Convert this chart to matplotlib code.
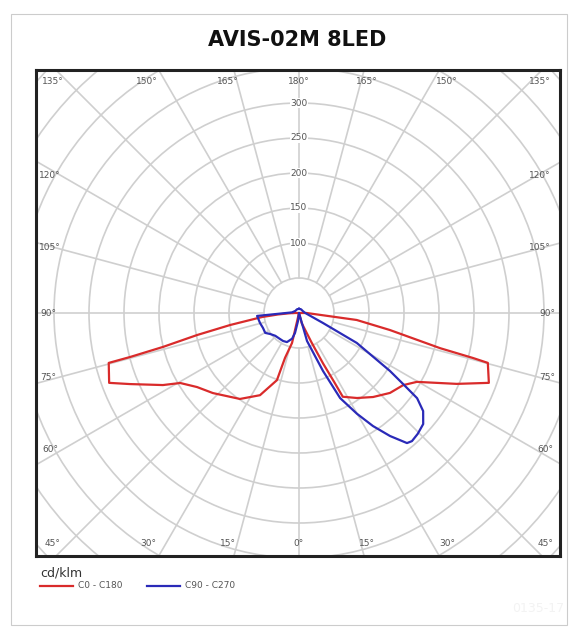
import numpy as np
import matplotlib
matplotlib.use("Agg")
import matplotlib.pyplot as plt
from matplotlib.patches import Circle, Rectangle
from matplotlib.lines import Line2D

# photometric data, gamma in degrees from nadir, intensity in cd/klm
red_left_gamma = [90, 88, 86, 83.8, 80.1, 77.8, 76.0, 75.4, 75.3, 69.8, 67.2,
                  62.1, 59.5, 54.0, 47.1, 34.5, 25.4, 18.2, 17.3, 13.1, 0]
red_left_cd = [8, 15, 30, 53, 100, 149, 200, 249, 281, 289, 262,
               220, 197, 180, 168, 149, 130, 101, 67, 44, 0]

red_right_gamma = [90, 83.1, 79.4, 76.0, 75.5, 75.2, 69.8, 65.8, 59.7, 55.3,
                   48.7, 41.4, 34.3, 27.6, 27.0, 25.5, 23.0, 15.0, 0]
red_right_cd = [11, 83, 132, 208, 257, 279, 289, 247, 195, 181,
                173, 160, 147, 135, 110, 80, 45, 15, 0]

blue_left_gamma = [180, 150, 120, 95, 86, 75.6, 67.4, 59.5, 54.0, 46.2,
                   36.2, 29.7, 22.5, 15.0, 11.3, 7.0, 0]
blue_left_cd = [6, 6, 6, 10, 60, 57.5, 55.7, 56, 51, 47,
                46, 46, 45, 38, 29, 11.5, 0]

blue_right_gamma = [0, 16, 22.5, 25.8, 29.9, 33.2, 36.5, 39.7, 41.4, 44.5, 48.2,
                    51.7, 54.2, 55.7, 57.5, 62.6, 67.4, 83, 95, 120, 150, 180]
blue_right_cd = [0, 41.6, 89.7, 135, 166, 193, 218.6, 241.5, 244, 242, 238,
                 226, 208, 180, 154, 93, 37, 11.5, 8, 6, 6, 6]

ring_values = [50, 100, 150, 200, 250, 300, 350, 400, 450, 500]
ring_labels = [100, 150, 200, 250, 300]
spoke_angles = list(range(0, 360, 15))

# angle labels: text, offset from centre in pixels (right, down)
angle_labels = [
    ("135°", -246, -231), ("150°", -152, -231), ("165°", -71, -231), ("180°", 0, -231),
    ("165°", 68, -231), ("150°", 148, -231), ("135°", 241, -231),
    ("120°", -249, -138), ("105°", -249, -65), ("90°", -251, 0), ("75°", -251, 65),
    ("60°", -249, 137), ("45°", -247, 230),
    ("120°", 241, -138), ("105°", 241, -65), ("90°", 248, 0), ("75°", 248, 65),
    ("60°", 246, 137), ("45°", 246, 230),
    ("30°", -151, 230), ("15°", -71, 230), ("0°", 0, 230), ("15°", 68, 230), ("30°", 148, 230),
]

RED = "#d92b2b"
BLUE = "#2a2ab8"
GRID = "#cfcfcf"

W, H = 578, 635
scale = 0.7          # pixels per cd/klm
cx, cy = 299, 313    # centre in pixels
box = (36, 70, 560, 556)


def fx(px):
    return px / W


def fy(py):
    return 1 - py / H


def to_xy(gamma, cd, side):
    g = np.radians(gamma)
    cd = np.asarray(cd, dtype=float)
    return side * cd * np.sin(g), -cd * np.cos(g)


fig = plt.figure(figsize=(W / 100, H / 100), dpi=100)

# outer frame
fig.add_artist(Rectangle((fx(11), fy(625)), fx(567) - fx(11), fy(14) - fy(625),
                         transform=fig.transFigure, fill=False,
                         edgecolor="#cccccc", linewidth=0.8))

fig.text(fx(297), fy(40), "AVIS-02M 8LED", ha="center", va="center",
         fontsize=15, fontweight="bold", family="DejaVu Sans", color="#111111")

ax = fig.add_axes([fx(box[0]), fy(box[3]), fx(box[2]) - fx(box[0]), fy(box[1]) - fy(box[3])])
ax.set_xlim((box[0] - cx) / scale, (box[2] - cx) / scale)
ax.set_ylim((cy - box[3]) / scale, (cy - box[1]) / scale)
ax.set_xticks([])
ax.set_yticks([])
for s in ax.spines.values():
    s.set_linewidth(2.2)
    s.set_color("#222222")

for r in ring_values:
    ax.add_patch(Circle((0, 0), r, fill=False, edgecolor=GRID, linewidth=1.2, zorder=1))

for a in spoke_angles:
    t = np.radians(a)
    ax.plot([50 * np.sin(t), 700 * np.sin(t)], [-50 * np.cos(t), -700 * np.cos(t)],
            color=GRID, linewidth=1.2, zorder=1)

for v in ring_labels:
    ax.text(0, v, str(v), ha="center", va="center", fontsize=6.5, color="#555555",
            bbox=dict(facecolor="white", edgecolor="none", pad=0.6), zorder=2)

for txt, dx, dy in angle_labels:
    ax.text(dx / scale, -dy / scale, txt, ha="center", va="center",
            fontsize=6.5, color="#555555", zorder=2)

# red curve C0 - C180
lx, ly = to_xy(red_left_gamma, red_left_cd, -1)
rx, ry = to_xy(red_right_gamma[::-1], red_right_cd[::-1], 1)
ax.plot(np.concatenate([lx, rx, lx[:1]]), np.concatenate([ly, ry, ly[:1]]),
        color=RED, linewidth=1.6, zorder=3)

# blue curve C90 - C270
lx, ly = to_xy(blue_left_gamma, blue_left_cd, -1)
rx, ry = to_xy(blue_right_gamma, blue_right_cd, 1)
ax.plot(np.concatenate([lx, rx]), np.concatenate([ly, ry]),
        color=BLUE, linewidth=1.6, zorder=4)

# legend
fig.text(fx(40), fy(573), "cd/klm", ha="left", va="center", fontsize=9, color="#333333")
fig.add_artist(Line2D([fx(40), fx(73)], [fy(586), fy(586)], color=RED, linewidth=1.6,
                      transform=fig.transFigure))
fig.text(fx(78), fy(586), "C0 - C180", ha="left", va="center", fontsize=6.5, color="#555555")
fig.add_artist(Line2D([fx(147), fx(180)], [fy(586), fy(586)], color=BLUE, linewidth=1.6,
                      transform=fig.transFigure))
fig.text(fx(185), fy(586), "C90 - C270", ha="left", va="center", fontsize=6.5, color="#555555")

fig.text(fx(538), fy(608), "0135-17", ha="center", va="center", fontsize=9, color="#f3f3f3")

fig.savefig("out.png", dpi=100)
